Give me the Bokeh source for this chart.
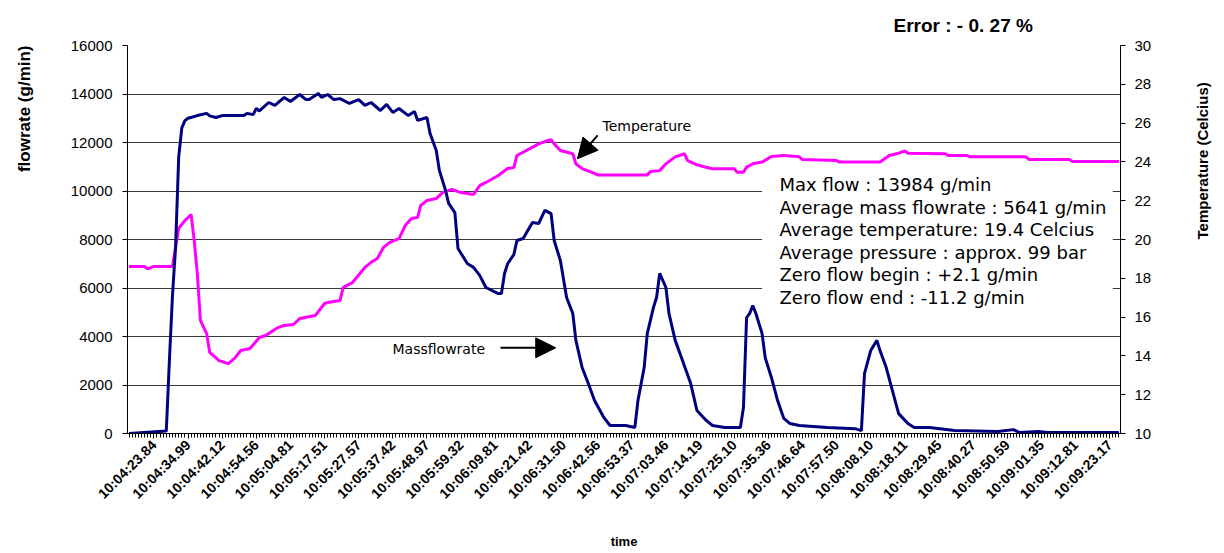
import math
from bokeh.plotting import figure
from bokeh.models import (Range1d, LinearAxis, FixedTicker, Label, Arrow, NormalHead,
                          BoxAnnotation)
from bokeh.embed import file_html
from bokeh.resources import INLINE

# ---------------- data ----------------
n_samples = 320

time_labels = ["10:04:23.84", "10:04:34.99", "10:04:42.12", "10:04:54.56", "10:05:04.81",
               "10:05:17.51", "10:05:27.57", "10:05:37.42", "10:05:48.97", "10:05:59.32",
               "10:06:09.81", "10:06:21.42", "10:06:31.50", "10:06:42.56", "10:06:53.37",
               "10:07:03.46", "10:07:14.19", "10:07:25.10", "10:07:35.36", "10:07:46.64",
               "10:07:57.50", "10:08:08.10", "10:08:18.11", "10:08:29.45", "10:08:40.27",
               "10:08:50.59", "10:09:01.35", "10:09:12.81", "10:09:23.17"]
label_index = [8, 19, 30, 41, 52, 63, 74, 85, 96, 107, 118, 129, 140, 151, 162, 173, 184,
               195, 206, 217, 228, 239, 250, 261, 272, 283, 294, 305, 316]

flow_idx = [0, 12, 13, 14, 15, 16, 17, 18, 19, 22, 25, 26, 28, 30, 37, 38, 40, 41, 42, 45,
            47, 50, 52, 55, 57, 58, 61, 62, 64, 66, 68, 71, 74, 76, 78, 81, 83, 85, 87, 90,
            92, 93, 96, 97, 99, 100, 102, 103, 105, 106, 109, 111, 113, 115, 119, 120, 121,
            122, 124, 125, 127, 130, 132, 134, 136, 137, 139, 141, 143, 144, 146, 148, 150,
            153, 155, 160, 163, 164, 166, 167, 169, 170, 171, 173, 174, 176, 178, 181, 183,
            186, 188, 192, 197, 198, 199, 200, 201, 202, 204, 205, 207, 209, 211, 213, 216,
            225, 234, 236, 237, 239, 241, 242, 244, 246, 248, 251, 253, 258, 266, 280, 285,
            287, 293, 296, 319]
flow_val = [0, 100, 3000, 5700, 7700, 11400, 12600, 12900, 13000, 13110, 13200, 13100, 13030,
            13110, 13110, 13200, 13150, 13400, 13300, 13650, 13530, 13860, 13690, 13980, 13770,
            13770, 14020, 13860, 13980, 13770, 13810, 13610, 13770, 13530, 13650, 13320, 13570,
            13240, 13400, 13110, 13280, 12910, 13030, 12370, 11670, 10850, 10020, 9490, 9110,
            7630, 7010, 6850, 6520, 6020, 5770, 5770, 6600, 7000, 7380, 7960, 8040, 8700, 8660,
            9200, 9070, 7960, 7130, 5610, 4950, 3840, 2720, 2060, 1360, 660, 330, 330, 250,
            1360, 2720, 4120, 5200, 5610, 6600, 6020, 4950, 3840, 3130, 2060, 950, 540, 330,
            250, 250, 1070, 4780, 4950, 5280, 4950, 4120, 3130, 2310, 1360, 620, 410, 330, 250,
            200, 120, 2470, 3420, 3840, 3420, 2720, 1770, 820, 410, 250, 250, 120, 80, 160, 40,
            80, 40, 40]

temp_idx = [0, 5, 6, 8, 14, 15, 16, 18, 20, 21, 22, 23, 25, 26, 29, 32, 34, 36, 39, 42, 44,
            48, 50, 53, 55, 60, 63, 64, 68, 69, 72, 76, 78, 80, 82, 84, 87, 89, 91, 93, 94, 96,
            99, 101, 104, 107, 111, 113, 115, 119, 122, 124, 125, 127, 129, 132, 134, 136, 137,
            139, 143, 144, 146, 149, 151, 167, 168, 171, 173, 176, 179, 180, 183, 185, 188, 195,
            196, 198, 199, 201, 204, 207, 211, 216, 217, 228, 229, 242, 245, 248, 250, 251, 263,
            264, 270, 271, 289, 290, 303, 304, 319]
temp_val = [18.61, 18.61, 18.49, 18.61, 18.61, 19.6, 20.57, 20.98, 21.29, 19.95, 18.25, 15.83,
            15.15, 14.18, 13.76, 13.6, 13.87, 14.28, 14.38, 14.95, 15.05, 15.46, 15.57, 15.62,
            15.93, 16.08, 16.7, 16.75, 16.86, 17.53, 17.78, 18.56, 18.82, 19.02, 19.59, 19.85,
            20.05, 20.72, 21.08, 21.14, 21.76, 22.01, 22.11, 22.42, 22.58, 22.42, 22.32, 22.78,
            22.94, 23.3, 23.66, 23.71, 24.33, 24.5, 24.67, 24.93, 25.05, 25.15, 24.93, 24.59,
            24.42, 23.9, 23.65, 23.47, 23.33, 23.33, 23.5, 23.55, 23.9, 24.26, 24.42, 24.07,
            23.85, 23.76, 23.65, 23.65, 23.47, 23.47, 23.73, 23.9, 23.99, 24.28, 24.33, 24.26,
            24.12, 24.07, 23.99, 23.99, 24.33, 24.45, 24.56, 24.45, 24.42, 24.33, 24.33, 24.26,
            24.26, 24.13, 24.13, 24.02, 24.02]

flow_ticks = [0, 2000, 4000, 6000, 8000, 10000, 12000, 14000, 16000]
temp_ticks = [10, 12, 14, 16, 18, 20, 22, 24, 26, 28, 30]

info_lines = ["Max flow :    13984 g/min",
              "Average mass flowrate : 5641 g/min",
              "Average temperature: 19.4 Celcius",
              "Average pressure : approx. 99 bar",
              "Zero flow begin : +2.1 g/min",
              "Zero flow end : -11.2 g/min"]

# ---------------- figure ----------------
p = figure(width=1224, height=553, output_backend="svg", toolbar_location=None,
           x_range=Range1d(-0.5, n_samples - 0.5), y_range=Range1d(0, 16000),
           min_border_left=127, min_border_right=104, min_border_top=45,
           min_border_bottom=120)
p.outline_line_color = None
p.background_fill_color = "white"
p.border_fill_color = "white"
p.extra_y_ranges = {"temp": Range1d(10, 30)}

p.title.text = "Error : - 0. 27 %"
p.title.align = "left"
p.title.offset = 766
p.title.standoff = 20
p.title.text_font = "Liberation Sans"
p.title.text_font_size = "19px"
p.title.text_font_style = "bold"
p.title.text_color = "black"

p.xgrid.visible = False
p.ygrid.grid_line_color = "#3a3a3a"
p.ygrid.grid_line_width = 1
p.ygrid.ticker = FixedTicker(ticks=flow_ticks)


def place_label(axis, text, size, standoff, align=None, orientation=None):
    axis.axis_label = text
    axis.axis_label_standoff = standoff
    axis.axis_label_text_font = "Liberation Sans"
    axis.axis_label_text_font_size = size
    axis.axis_label_text_font_style = "bold"
    axis.axis_label_text_color = "black"
    if orientation is not None:
        axis.axis_label_orientation = orientation
    if align is not None:
        try:
            axis.axis_label_align = align
        except Exception:
            pass


# left axis
ya = p.yaxis[0]
ya.ticker = FixedTicker(ticks=flow_ticks)
ya.major_tick_out = 5
ya.major_tick_in = 0
ya.minor_tick_out = 0
ya.major_label_standoff = 10
ya.major_label_text_font = "Liberation Sans"
ya.major_label_text_font_size = "15px"
ya.major_label_text_color = "black"
ya.axis_line_color = "black"
ya.major_tick_line_color = "black"
place_label(ya, "flowrate (g/min)", "17px", 43, align="end", orientation=math.pi / 2)

# right axis
ra = LinearAxis(y_range_name="temp", ticker=FixedTicker(ticks=temp_ticks))
ra.major_tick_out = 5
ra.major_tick_in = 0
ra.minor_tick_out = 0
ra.major_label_standoff = 9
ra.major_label_text_font = "Liberation Sans"
ra.major_label_text_font_size = "15px"
ra.major_label_text_color = "black"
ra.axis_line_color = "black"
place_label(ra, "Temperature (Celcius)", "15px", 48, align="center",
            orientation=math.pi / 2)
p.add_layout(ra, "right")

# x axis
xa = p.xaxis[0]
xa.ticker = FixedTicker(ticks=label_index, minor_ticks=list(range(n_samples)))
xa.major_label_overrides = {i: t for i, t in zip(label_index, time_labels)}
xa.major_label_orientation = math.pi / 4
xa.major_tick_out = 5
xa.major_tick_in = 0
xa.minor_tick_out = 4
xa.minor_tick_in = 0
xa.major_label_standoff = 4
xa.major_label_text_font = "Liberation Sans"
xa.major_label_text_font_style = "bold"
xa.major_label_text_font_size = "14px"
xa.major_label_text_color = "black"
xa.axis_line_color = "black"
place_label(xa, "time", "13px", 24)

# white box behind the info text
p.add_layout(BoxAnnotation(left=204, right=317, bottom=5000, top=10600,
                           fill_color="white", fill_alpha=1, line_color=None,
                           level="underlay"))

# series
p.line(temp_idx, temp_val, y_range_name="temp", line_color="#FF00FF", line_width=3)
p.line(flow_idx, flow_val, line_color="#000080", line_width=3)

# arrows + annotation labels
p.add_layout(Arrow(x_start=151, y_start=12290, x_end=144.5, y_end=11330,
                   line_color="black", line_width=2,
                   end=NormalHead(size=20, fill_color="black", line_color="black")))
p.add_layout(Arrow(x_start=119.7, y_start=3534, x_end=137.5, y_end=3534,
                   line_color="black", line_width=2,
                   end=NormalHead(size=20, fill_color="black", line_color="black")))


def scr_label(text, x, y, size, font="DejaVu Sans"):
    p.add_layout(Label(x=x, y=y, x_units="screen", y_units="screen", text=text,
                       text_font=font, text_font_size=size,
                       text_align="left", text_baseline="middle",
                       text_color="black"))


scr_label("Temperature", 602 - 127, 433 - 125, "14px")
scr_label("Massflowrate", 392 - 127, 433 - 348, "14px")

for k, line in enumerate(info_lines):
    scr_label(line, 779 - 127, 433 - (184 + 22.6 * k), "18px")

open("out.html", "w").write(file_html(p, INLINE))
